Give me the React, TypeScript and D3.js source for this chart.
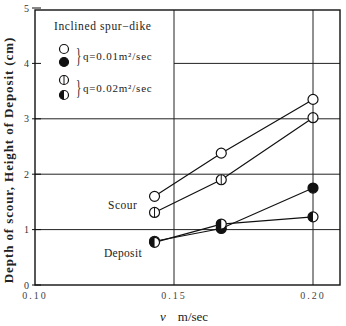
import * as d3 from "d3";

const velocities = [0.143, 0.167, 0.2];
const scourQ1 = [1.6, 2.38, 3.35];
const scourQ2 = [1.31, 1.9, 3.02];
const depositQ1 = [0.79, 1.02, 1.75];
const depositQ2 = [0.77, 1.1, 1.23];
const xTicks = [0.1, 0.15, 0.2];
const yTicks = [0, 1, 2, 3, 4, 5];

type Sym = "open" | "filled" | "lined" | "half";

const series: { values: number[]; sym: Sym }[] = [
  { values: scourQ1, sym: "open" },
  { values: scourQ2, sym: "lined" },
  { values: depositQ1, sym: "filled" },
  { values: depositQ2, sym: "half" },
];

function Marker({ x, y, sym, r = 5 }: { x: number; y: number; sym: Sym; r?: number }) {
  const arc = d3.path();
  arc.moveTo(x, y - r);
  arc.arc(x, y, r, -Math.PI / 2, Math.PI / 2, true);
  arc.closePath();
  return (
    <g>
      <circle cx={x} cy={y} r={r} fill={sym === "filled" ? "#111" : "#fff"} stroke="#111" strokeWidth={1.2} />
      {sym === "lined" && <line x1={x} x2={x} y1={y - r} y2={y + r} stroke="#111" strokeWidth={1} />}
      {sym === "half" && <path d={arc.toString()} fill="#111" />}
    </g>
  );
}

export default function App() {
  const x = d3.scaleLinear().domain([0.1, 0.2]).range([35, 313]);
  const y = d3.scaleLinear().domain([0, 5]).range([285, 8]);
  const line = d3
    .line<number>()
    .x((_, i) => x(velocities[i]))
    .y((d) => y(d));
  const right = 340;
  const top = 10;

  return (
    <svg
      width={346}
      height={326}
      style={{ position: "absolute", left: 0, top: 0, background: "#fff", fontFamily: "'Liberation Serif', serif" }}
    >
      {/* grid */}
      {[1, 2, 3].map((t) => (
        <line key={t} x1={x(0.1)} x2={right} y1={y(t)} y2={y(t)} stroke="#222" strokeWidth={1} />
      ))}
      <line x1={x(0.15)} x2={right} y1={y(4)} y2={y(4)} stroke="#222" strokeWidth={1} />
      {[0.15, 0.2].map((t) => (
        <line key={t} x1={x(t)} x2={x(t)} y1={top} y2={y(0)} stroke="#222" strokeWidth={1} />
      ))}
      {/* frame */}
      <rect x={x(0.1)} y={top} width={right - x(0.1)} height={y(0) - top} fill="none" stroke="#111" strokeWidth={1.4} />
      {/* y ticks */}
      {yTicks.map((t) => (
        <g key={t}>
          <line x1={x(0.1) - 3} x2={x(0.1) + 6} y1={y(t)} y2={y(t)} stroke="#111" strokeWidth={1} />
          <text x={x(0.1) - 6} y={y(t)} dy="0.35em" textAnchor="end" fontSize={10} fill="#333">
            {t}
          </text>
        </g>
      ))}
      {xTicks.map((t) => (
        <text key={t} x={x(t)} y={y(0) + 14} textAnchor="middle" fontSize={10} fill="#444" letterSpacing={2}>
          {t.toFixed(2)}
        </text>
      ))}
      {/* axis labels */}
      <text x={160} y={321} fontSize={13} fill="#222">
        <tspan fontStyle="italic">v</tspan>
        <tspan dx={12}>m/sec</tspan>
      </text>
      <text
        transform={`translate(13,160) rotate(-90)`}
        textAnchor="middle"
        fontSize={13}
        fontWeight="bold"
        letterSpacing={0.9}
        fill="#222"
      >
        Depth of scour, Height of Deposit (cm)
      </text>
      {/* lines */}
      {series.map((s, i) => (
        <path key={i} d={line(s.values) ?? ""} fill="none" stroke="#111" strokeWidth={1.2} />
      ))}
      {series.map((s, i) =>
        s.values.map((v, j) => <Marker key={`${i}-${j}`} x={x(velocities[j])} y={y(v)} sym={s.sym} />)
      )}
      {/* annotations */}
      <text x={108} y={209} fontSize={11.5} fill="#222" letterSpacing={0.5}>Scour</text>
      <text x={104} y={257} fontSize={11.5} fill="#222" letterSpacing={0.3}>Deposit</text>
      {/* legend */}
      <text x={54} y={30} fontSize={11.5} fill="#222" letterSpacing={0.6}>Inclined spur−dike</text>
      <Marker x={64} y={49} sym="open" r={4.5} />
      <Marker x={64} y={62} sym="filled" r={4.5} />
      <text x={0} y={0} fontSize={22} fill="#222" transform="translate(76,62) scale(0.5,1)">
        {"}"}
      </text>
      <text x={83} y={60} fontSize={11} fill="#222" letterSpacing={0.8}>
        q=0.01m²/sec
      </text>
      <Marker x={64} y={80} sym="lined" r={4.5} />
      <Marker x={64} y={95} sym="half" r={4.5} />
      <text x={0} y={0} fontSize={22} fill="#222" transform="translate(76,94) scale(0.5,1)">
        {"}"}
      </text>
      <text x={83} y={92} fontSize={11} fill="#222" letterSpacing={0.8}>
        q=0.02m²/sec
      </text>
    </svg>
  );
}
